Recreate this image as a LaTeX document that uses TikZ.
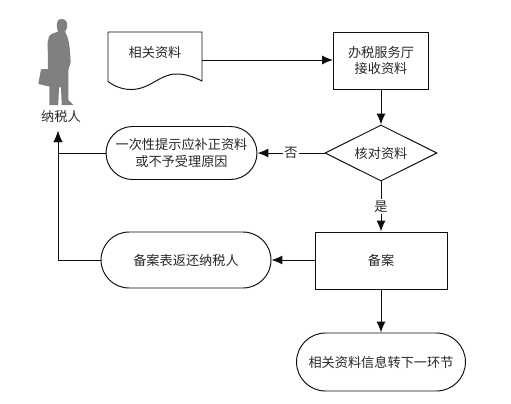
\documentclass[tikz,border=0pt]{standalone}
\usepackage{xcolor}
\usepackage{fontspec}
\usepackage{tikz}
\usetikzlibrary{shapes,arrows.meta,positioning,calc,shapes.geometric}
\newfontfamily\cjk{Noto Sans CJK SC}
\definecolor{mygray}{RGB}{128,128,128}
\definecolor{myline}{RGB}{15,15,15}
\definecolor{mytext}{RGB}{40,40,40}
\tikzset{
  flowline/.style={draw=myline, line width=0.55pt, -{Latex[length=2.2mm,width=1.8mm]}},
  boxnode/.style={draw=myline, line width=0.55pt, align=center},
  pillnode/.style={draw=myline, line width=0.55pt, align=center, minimum height=#1, rounded corners=#1/2},
  tagnode/.style={fill=white, inner sep=1pt}
}
\begin{document}
\begin{tikzpicture}[font=\cjk\fontsize{7.5pt}{9.3pt}\selectfont, text=mytext, x=0.02cm, y=-0.02cm]
  \useasboundingbox (0,0) rectangle (511,403);
  % taxpayer figure
  \fill[mygray] (61.7,19) .. controls (58,19) and (56.5,22) .. (56.7,25)
    .. controls (56.8,28) and (57.5,30) .. (58,31.7) .. controls (54,33) and (50,34) .. (49,36.7)
    .. controls (47.5,40) and (47.5,44) .. (47.7,47) -- (48,69) -- (41,69.3) -- (38.3,84) -- (49.3,86.5)
    -- (49.3,105) -- (58.3,105) -- (59,87.3) -- (61,87.3) -- (61.7,105) -- (73.3,105)
    -- (68.3,100) -- (68.3,70) -- (70.7,62) .. controls (70,52) and (69.5,44) .. (68.3,40)
    .. controls (67.5,36) and (66,34) .. (65,31.7) .. controls (67,29) and (67.5,27) .. (67.3,25)
    .. controls (67,21) and (65,19) .. (61.7,19) -- cycle;
  \node (payer) at (61,116.5){纳税人};
  % document
  \node (doc) at (155,52.7){相关资料};
  \draw[myline, line width=0.55pt] (108,32) -- (202,32) -- (202,81)
    .. controls (190,75) and (183,74) .. (176,74) .. controls (160,74) and (150,89.5) .. (131,89.5)
    .. controls (122,89.5) and (114,86) .. (108,81.5) -- cycle;
  \coordinate (docout) at (202,60);
  % flow nodes
  \node[boxnode, minimum width=1.9cm, minimum height=1.14cm](recv) at (381,60.5){办税服务厅\\接收资料};
  \node[boxnode, diamond, aspect=2, inner sep=0pt, minimum width=2.24cm, minimum height=1.12cm](check) at (381,153){核对资料};
  \node[pillnode=1.06cm, minimum width=3.02cm](notice) at (181.5,153){一次性提示应补正资料\\或不予受理原因};
  \node[boxnode, minimum width=2.64cm, minimum height=1.14cm](record) at (381,260.5){备案};
  \node[pillnode=1.12cm, minimum width=3.4cm](back) at (186,260){备案表返还纳税人};
  \node[pillnode=1.16cm, minimum width=3.38cm](next) at (381,362){相关资料信息转下一环节};
  \coordinate (payerin) at (58,131);
  % connectors
  \draw[flowline] (docout) -- (recv.west |- docout);
  \draw[flowline] (recv) -- (check);
  \draw[flowline] (check) -- node[tagnode]{否} (notice);
  \draw[flowline] (check) -- node[tagnode]{是} (record);
  \draw[flowline] (record.west |- back) -- (back);
  \draw[flowline] (record) -- (next);
  \draw[flowline] (notice.west) -- (notice.west -| payerin) -- (payerin);
  \draw[flowline] (back.west) -- (back.west -| payerin) -- (payerin);
\end{tikzpicture}
\end{document}
